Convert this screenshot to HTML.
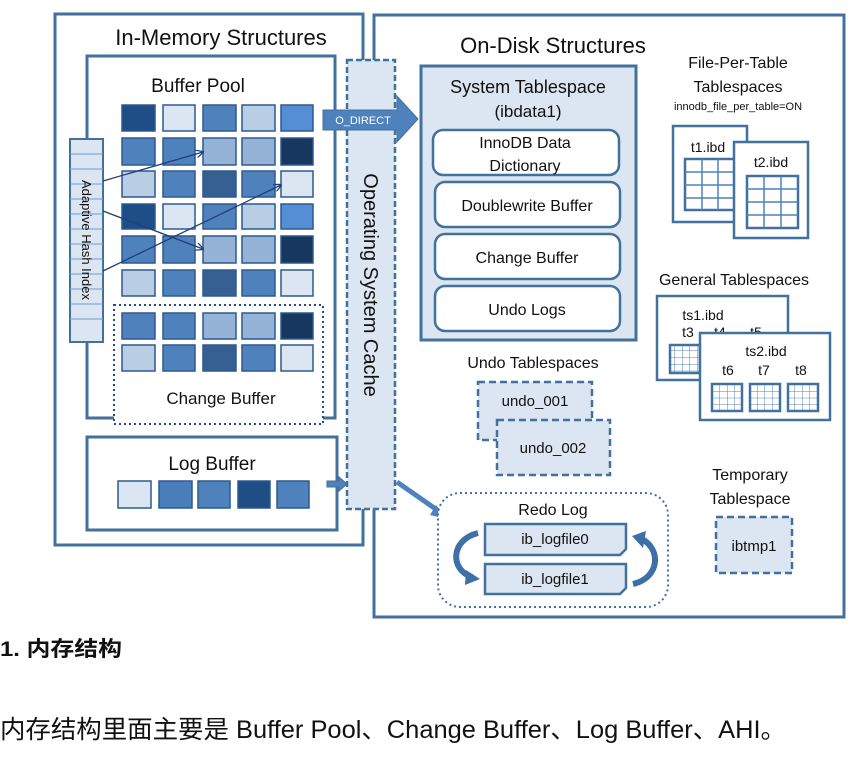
<!DOCTYPE html>
<html><head><meta charset="utf-8"><style>
html,body{margin:0;padding:0;background:#fff;}
svg{display:block;}
text{font-family:"Liberation Sans","Noto Sans CJK SC",sans-serif;fill:#111;}
</style></head><body>
<svg width="856" height="759" viewBox="0 0 856 759" xmlns="http://www.w3.org/2000/svg">
<defs>
<marker id="ah" markerWidth="8" markerHeight="8" refX="7" refY="4" orient="auto" markerUnits="userSpaceOnUse"><path d="M0,0 L8,4 L0,8" fill="none" stroke="#1f3f7a" stroke-width="1.3"/></marker>
<pattern id="gridS" x="0" y="0" width="7.5" height="6.75" patternUnits="userSpaceOnUse"><path d="M7.5 0 V6.75 M0 6.75 H7.5" stroke="#4f81bd" stroke-width="1" fill="none"/></pattern>
</defs>
<g stroke="#41719c" stroke-width="3" fill="none">
<rect x="55" y="14" width="308" height="531" fill="#fff"/>
<rect x="374" y="15" width="470" height="602" fill="#fff"/>
<rect x="87" y="56" width="248" height="362" fill="#fff"/>
<rect x="87" y="437" width="250" height="93" fill="#fff"/>
</g>
<text x="221" y="45" font-size="22" text-anchor="middle">In-Memory Structures</text>
<text x="198" y="92" font-size="19" text-anchor="middle">Buffer Pool</text>
<rect x="114" y="305" width="209" height="119" fill="#fff" stroke="#1f4e87" stroke-width="2" stroke-dasharray="2,3"/>
<g stroke="#2c5a8e" stroke-width="1.5">
<rect x="122" y="105" width="33" height="26" fill="#1f4e87"/><rect x="163" y="105" width="32" height="26" fill="#dce6f2"/><rect x="203" y="105" width="33" height="26" fill="#4f81bd"/><rect x="242" y="105" width="33" height="26" fill="#b9cde5"/><rect x="281" y="105" width="32" height="26" fill="#558ed5"/>
<rect x="122" y="138" width="33" height="27" fill="#4f81bd"/><rect x="163" y="138" width="32" height="27" fill="#4f81bd"/><rect x="203" y="138" width="33" height="27" fill="#95b3d7"/><rect x="242" y="138" width="33" height="27" fill="#95b3d7"/><rect x="281" y="138" width="32" height="27" fill="#17375e"/>
<rect x="122" y="171" width="33" height="26" fill="#b9cde5"/><rect x="163" y="171" width="32" height="26" fill="#4f81bd"/><rect x="203" y="171" width="33" height="26" fill="#366092"/><rect x="242" y="171" width="33" height="26" fill="#4f81bd"/><rect x="281" y="171" width="32" height="26" fill="#dce6f2"/>
<rect x="122" y="204" width="33" height="25" fill="#1f4e87"/><rect x="163" y="204" width="32" height="25" fill="#dce6f2"/><rect x="203" y="204" width="33" height="25" fill="#4f81bd"/><rect x="242" y="204" width="33" height="25" fill="#b9cde5"/><rect x="281" y="204" width="32" height="25" fill="#558ed5"/>
<rect x="122" y="236" width="33" height="27" fill="#4f81bd"/><rect x="163" y="236" width="32" height="27" fill="#4f81bd"/><rect x="203" y="236" width="33" height="27" fill="#95b3d7"/><rect x="242" y="236" width="33" height="27" fill="#95b3d7"/><rect x="281" y="236" width="32" height="27" fill="#17375e"/>
<rect x="122" y="270" width="33" height="26" fill="#b9cde5"/><rect x="163" y="270" width="32" height="26" fill="#4f81bd"/><rect x="203" y="270" width="33" height="26" fill="#366092"/><rect x="242" y="270" width="33" height="26" fill="#4f81bd"/><rect x="281" y="270" width="32" height="26" fill="#dce6f2"/>
<rect x="122" y="313" width="33" height="26" fill="#4f81bd"/><rect x="163" y="313" width="32" height="26" fill="#4f81bd"/><rect x="203" y="313" width="33" height="26" fill="#95b3d7"/><rect x="242" y="313" width="33" height="26" fill="#95b3d7"/><rect x="281" y="313" width="32" height="26" fill="#17375e"/>
<rect x="122" y="345" width="33" height="26" fill="#b9cde5"/><rect x="163" y="345" width="32" height="26" fill="#4f81bd"/><rect x="203" y="345" width="33" height="26" fill="#366092"/><rect x="242" y="345" width="33" height="26" fill="#4f81bd"/><rect x="281" y="345" width="32" height="26" fill="#dce6f2"/>
<rect x="118" y="481" width="33" height="27" fill="#dce6f2"/><rect x="159" y="481" width="33" height="27" fill="#4a7ebb"/><rect x="198" y="481" width="32" height="27" fill="#4f81bd"/><rect x="238" y="481" width="32" height="27" fill="#1f4e87"/><rect x="277" y="481" width="32" height="27" fill="#4f81bd"/>
</g>
<text x="221" y="404" font-size="17" text-anchor="middle">Change Buffer</text>
<text x="212" y="470" font-size="19" text-anchor="middle">Log Buffer</text>
<rect x="70" y="139" width="33" height="203" fill="#dce6f2" stroke="#41719c" stroke-width="2"/>
<g stroke="#6f9ad0" stroke-width="1">
<path d="M70 154H103M70 169H103M70 184H103M70 199H103M70 214H103M70 229H103M70 244H103M70 259H103M70 274H103M70 289H103M70 304H103M70 319H103"/>
</g>
<text transform="translate(82,240) rotate(90)" font-size="13" text-anchor="middle">Adaptive Hash Index</text>
<g stroke="#1f3f7a" stroke-width="1.3" fill="none">
<line x1="103" y1="181" x2="203" y2="152" marker-end="url(#ah)"/>
<line x1="103" y1="211" x2="203" y2="249" marker-end="url(#ah)"/>
<line x1="103" y1="271" x2="281" y2="185" marker-end="url(#ah)"/>
</g>
<rect x="347" y="60" width="48" height="449" fill="#dce6f2" stroke="#41719c" stroke-width="2.5" stroke-dasharray="6,3"/>
<text transform="translate(364,285) rotate(90)" font-size="20" text-anchor="middle">Operating System Cache</text>
<path d="M323 110 H397 V96 L418 119 L397 142 V130 H323 Z" fill="#4f81bd" stroke="#41719c" stroke-width="1"/>
<text x="363" y="124" font-size="11" style="fill:#fff" text-anchor="middle">O_DIRECT</text>
<path d="M327 481 H339 V477 L347 484 L339 491 V487 H327 Z" fill="#4f81bd" stroke="#41719c" stroke-width="1"/>
<line x1="397" y1="482" x2="440" y2="512" stroke="#4f81bd" stroke-width="5"/>
<path d="M436 505 L447 519 L430 515 Z" fill="#4f81bd"/>
<text x="553" y="53" font-size="22" text-anchor="middle">On-Disk Structures</text>
<rect x="421" y="66" width="215" height="274" fill="#dce6f2" stroke="#41719c" stroke-width="3"/>
<text x="528" y="93" font-size="18" text-anchor="middle">System Tablespace</text>
<text x="528" y="117" font-size="17" text-anchor="middle">(ibdata1)</text>
<g fill="#fff" stroke="#41719c" stroke-width="2.5">
<rect x="433" y="130" width="186" height="45" rx="10"/>
<rect x="435" y="182" width="185" height="45" rx="10"/>
<rect x="435" y="234" width="185" height="45" rx="10"/>
<rect x="435" y="286" width="185" height="45" rx="10"/>
</g>
<g font-size="16" text-anchor="middle">
<text x="525" y="148">InnoDB Data</text><text x="525" y="171">Dictionary</text>
<text x="527" y="211">Doublewrite Buffer</text>
<text x="527" y="263">Change Buffer</text>
<text x="527" y="315">Undo Logs</text>
</g>
<text x="738" y="68" font-size="16" text-anchor="middle">File-Per-Table</text>
<text x="738" y="92" font-size="16" text-anchor="middle">Tablespaces</text>
<text x="738" y="110" font-size="11" text-anchor="middle">innodb_file_per_table=ON</text>
<g stroke="#41719c" stroke-width="2.5">
<rect x="673" y="126" width="74" height="96" fill="#fff"/>
<rect x="685" y="159" width="50" height="51" fill="#fff"/>
</g>
<path d="M702 159V210M718 159V210M685 172H735M685 185H735M685 198H735" stroke="#4f81bd" stroke-width="1.5"/>
<g stroke="#41719c" stroke-width="2.5">
<rect x="734" y="142" width="74" height="96" fill="#fff"/>
<rect x="747" y="176" width="51" height="52" fill="#fff"/>
</g>
<path d="M764 176V228M781 176V228M747 189H798M747 202H798M747 215H798" stroke="#4f81bd" stroke-width="1.5"/>
<text x="708" y="152" font-size="14" text-anchor="middle">t1.ibd</text>
<text x="771" y="167" font-size="14" text-anchor="middle">t2.ibd</text>
<text x="734" y="285" font-size="16" text-anchor="middle">General Tablespaces</text>
<g stroke="#41719c" stroke-width="2.5">
<rect x="657" y="296" width="131" height="84" fill="#fff"/>
<rect x="670" y="345" width="30" height="28" fill="url(#gridS)"/>
</g>
<text x="703" y="320" font-size="14" text-anchor="middle">ts1.ibd</text>
<text x="688" y="337" font-size="14" text-anchor="middle">t3</text>
<text x="720" y="337" font-size="14" text-anchor="middle">t4</text>
<text x="756" y="337" font-size="14" text-anchor="middle">t5</text>
<g stroke="#41719c" stroke-width="2.5">
<rect x="700" y="333" width="130" height="87" fill="#fff"/>
<rect x="712" y="384" width="30" height="27" fill="url(#gridS)"/>
<rect x="750" y="384" width="30" height="27" fill="url(#gridS)"/>
<rect x="788" y="384" width="30" height="27" fill="url(#gridS)"/>
</g>
<text x="766" y="356" font-size="14" text-anchor="middle">ts2.ibd</text>
<text x="728" y="375" font-size="14" text-anchor="middle">t6</text>
<text x="764" y="375" font-size="14" text-anchor="middle">t7</text>
<text x="801" y="375" font-size="14" text-anchor="middle">t8</text>
<text x="533" y="368" font-size="16" text-anchor="middle">Undo Tablespaces</text>
<rect x="478" y="382" width="114" height="58" fill="#dce6f2" stroke="#41719c" stroke-width="2.5" stroke-dasharray="7,4"/>
<text x="535" y="406" font-size="15" text-anchor="middle">undo_001</text>
<rect x="497" y="420" width="113" height="55" fill="#dce6f2" stroke="#41719c" stroke-width="2.5" stroke-dasharray="7,4"/>
<text x="553" y="453" font-size="15" text-anchor="middle">undo_002</text>
<rect x="438" y="493" width="230" height="114" rx="22" fill="#fff" stroke="#41719c" stroke-width="2" stroke-dasharray="2,3"/>
<text x="553" y="515" font-size="16" text-anchor="middle">Redo Log</text>
<g stroke="#41719c" stroke-width="2.5" fill="#dce6f2">
<path d="M485 524 H626 V549 L620 555 H485 Z"/>
<path d="M485 564 H626 V588 L620 594 H485 Z"/>
</g>
<text x="555" y="544" font-size="15" text-anchor="middle">ib_logfile0</text>
<text x="555" y="584" font-size="15" text-anchor="middle">ib_logfile1</text>
<path d="M478 533 C450 540 450 570 472 577" fill="none" stroke="#3f6fa8" stroke-width="6"/>
<path d="M466 570 L480 579 L465 585 Z" fill="#3f6fa8"/>
<path d="M633 584 C660 578 662 548 640 538" fill="none" stroke="#3f6fa8" stroke-width="6"/>
<path d="M646 531 L632 536 L643 548 Z" fill="#3f6fa8"/>
<text x="750" y="480" font-size="16" text-anchor="middle">Temporary</text>
<text x="750" y="504" font-size="16" text-anchor="middle">Tablespace</text>
<rect x="716" y="517" width="76" height="56" fill="#dce6f2" stroke="#41719c" stroke-width="2.5" stroke-dasharray="7,4"/>
<text x="754" y="551" font-size="15" text-anchor="middle">ibtmp1</text>
<text x="0" y="656" font-size="21" font-weight="bold" textLength="122" lengthAdjust="spacingAndGlyphs">1. 内存结构</text>
<text x="0" y="738" font-size="25" textLength="786" lengthAdjust="spacingAndGlyphs">内存结构里面主要是 Buffer Pool、Change Buffer、Log Buffer、AHI。</text>
</svg>
</body></html>
